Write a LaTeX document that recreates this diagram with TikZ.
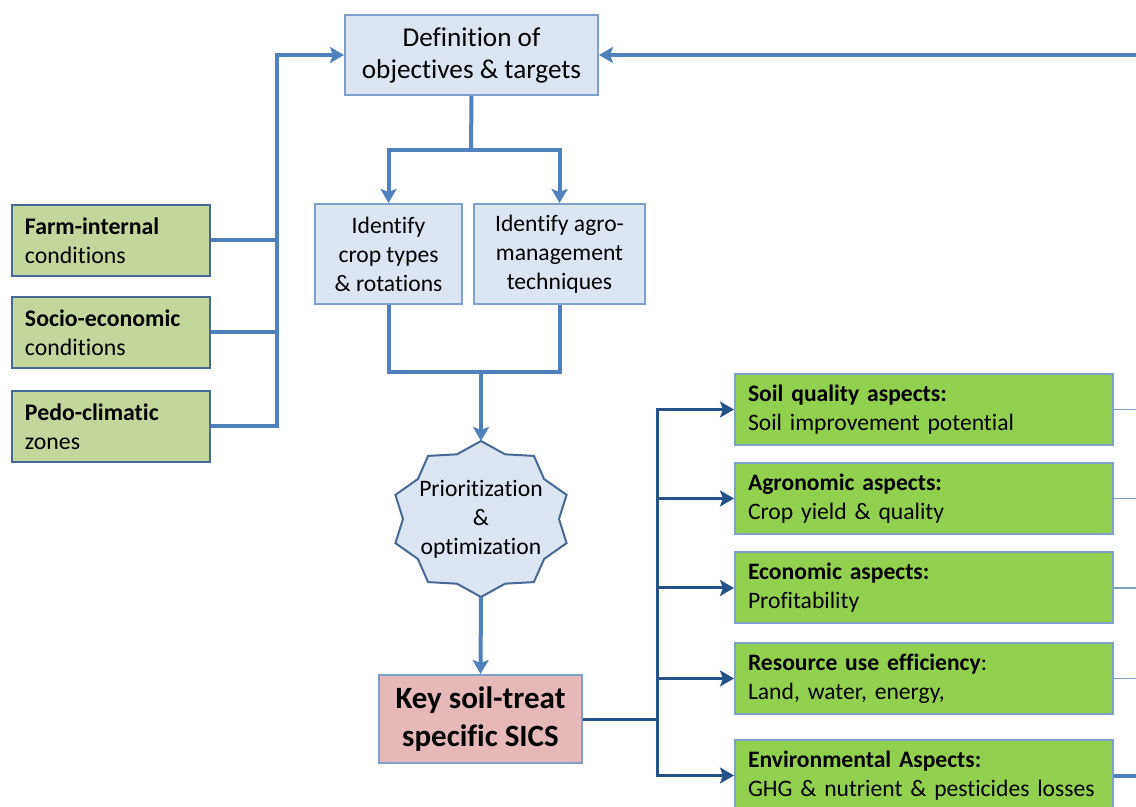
\documentclass[tikz,border=0pt]{standalone}
\usepackage{fontspec}
\setmainfont{Carlito}[Ligatures=NoCommon]
\usetikzlibrary{arrows.meta, calc}

\definecolor{feedblue}{RGB}{79,129,189}
\definecolor{darkblue}{RGB}{38,82,138}
\definecolor{paleblue}{RGB}{220,230,242}
\definecolor{edgeblue}{RGB}{125,160,205}
\definecolor{sage}{RGB}{195,214,155}
\definecolor{leaf}{RGB}{146,208,80}
\definecolor{rose}{RGB}{230,185,184}
\definecolor{slate}{RGB}{70,105,150}

\tikzset{
  stepbox/.style={draw=edgeblue, line width=1pt, fill=paleblue, align=center, inner sep=0pt},
  condbox/.style={draw=slate, line width=1pt, fill=sage, align=left, text width=86pt,
    minimum width=99pt, minimum height=35.5pt, inner xsep=6.5pt,
    font=\fontsize{11.9}{14.5}\selectfont},
  aspectbox/.style={draw=edgeblue, line width=1pt, fill=leaf, align=left, text width=176pt,
    minimum width=189pt, minimum height=35.5pt, inner xsep=6.5pt,
    font=\fontsize{11.8}{14.5}\selectfont},
  feed/.style={draw=feedblue, line width=2pt},
  branch/.style={draw=darkblue, line width=1.5pt},
  tail/.style={draw=edgeblue, line width=0.75pt},
}

\begin{document}
\begin{tikzpicture}[x=0.5pt, y=-0.5pt, >={Stealth[length=7pt,width=8pt,inset=1.5pt]}]
	\useasboundingbox (0,0) rectangle (1136,807);

	% planning steps
	\node[stepbox, minimum width=126.5pt, minimum height=40pt,
		font=\fontsize{13.6}{16}\selectfont] (defn) at (471.5,55) {Definition of\\objectives \& targets};
	\node[stepbox, minimum width=73.5pt, minimum height=50pt,
		font=\fontsize{11.8}{14.5}\selectfont] (crop) at (388.5,254) {Identify\\crop types\\\& rotations};
	\node[stepbox, minimum width=85.5pt, minimum height=50pt,
		font=\fontsize{11.8}{14.5}\selectfont] (agro) at (559.5,254) {Identify agro-\\management\\techniques};

	% conditions
	\node[condbox] (farm) at (111,240.5) {\textbf{Farm-internal}\\conditions};
	\node[condbox] (socio) at (111,332.5) {\textbf{Socio-economic}\\conditions};
	\node[condbox] (pedo) at (111,426.5) {\textbf{Pedo-climatic}\\zones};

	% star
	\coordinate (prioc) at (481,519);
	\draw[draw=slate, line width=1pt, fill=paleblue, shift={(prioc)}] (90:90 and 78)
		\foreach \k in {1,...,10} { -- ({72+\k*36}:78 and 68) -- ({90+\k*36}:90 and 78) } -- cycle;
	\node[align=center, font=\fontsize{11.8}{14.5}\selectfont] (prio) at (prioc) {Prioritization\\\&\\optimization};
	\coordinate (priotop) at (481,441);
	\coordinate (priobot) at (481,597);

	\node[stepbox, fill=rose, minimum width=101.5pt, minimum height=44pt,
		font=\bfseries\fontsize{15.5}{19}\selectfont] (key) at (480.5,719) {Key soil-treat\\specific SICS};

	% aspects
	\node[aspectbox] (soil) at (924,409.5) {\textbf{Soil quality aspects:}\\Soil improvement potential};
	\node[aspectbox] (agron) at (924,498.5) {\textbf{Agronomic aspects:}\\Crop yield \& quality};
	\node[aspectbox] (econ) at (924,588) {\textbf{Economic aspects:}\\Profitability};
	\node[aspectbox] (resource) at (924,678.5) {\textbf{Resource use efficiency}:\\Land, water, energy,};
	\node[aspectbox] (env) at (924,775.5) {\textbf{Environmental Aspects:}\\GHG \& nutrient \& pesticides losses};

	% connectors
	\coordinate (trunk) at (277,55);
	\coordinate (loop) at (1136,55);
	\coordinate (split) at (471,150);
	\coordinate (merge) at (481,372);
	\coordinate (hub) at (657,719);
	\coordinate (rim) at (1136,0);

	\draw[feed,->] (pedo.east) -| (trunk) -- (defn.west);
	\draw[feed] (farm.east) -- (farm.east -| trunk);
	\draw[feed] (socio.east) -- (socio.east -| trunk);
	\draw[feed,->] (loop) -- (defn.east);
	\draw[feed] (defn.south) -- (split);
	\draw[feed,->] (split) -| (crop.north);
	\draw[feed,->] (split) -| (agro.north);
	\draw[feed] (crop.south) |- (merge) -| (agro.south);
	\draw[feed,->] (merge) -- (priotop);
	\draw[feed,->] (priobot) -- (key.north);

	\draw[branch] (key.east) -- (hub);
	\foreach \aspect in {soil, agron, econ, resource, env}
		\draw[branch,->] (hub) |- (\aspect.west);
	\foreach \aspect in {soil, agron, econ, resource}
		\draw[tail] (\aspect.east) -- (\aspect.east -| rim);
	\draw[feed] (env.east) -- (env.east -| rim);
\end{tikzpicture}
\end{document}
